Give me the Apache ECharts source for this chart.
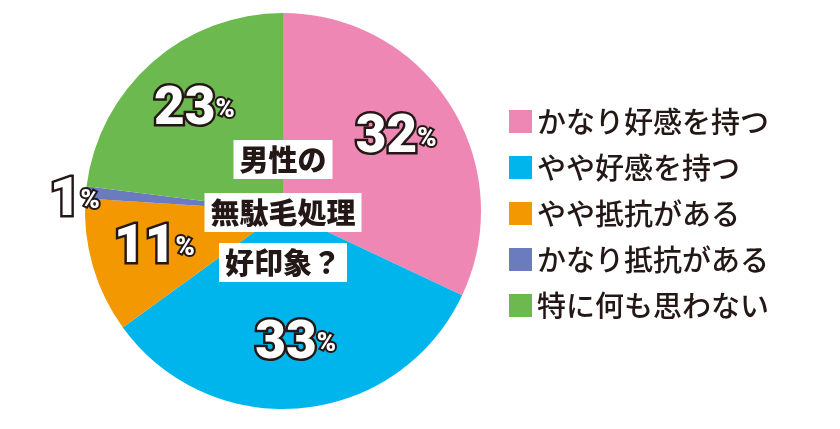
<!DOCTYPE html>
<html><head><meta charset="utf-8">
<script src="https://cdn.jsdelivr.net/npm/echarts@6/dist/echarts.min.js"></script>
<style>html,body{margin:0;padding:0;background:#fff}#c{width:840px;height:429px}</style>
</head><body><div id="c"></div>
<script>
var categories = ['かなり好感を持つ','やや好感を持つ','やや抵抗がある','かなり抵抗がある','特に何も思わない'];
var values = [32, 33, 11, 1, 23];
var colors = ['#EE87B3','#00B5EC','#F39800','#6A7BBE','#6CB94F'];
var centerLines = ['男性の','無駄毛処理','好印象？'];

var chart = echarts.init(document.getElementById('c'));
var pieData = categories.map(function(n,i){ return {name:n, value:values[i], itemStyle:{color:colors[i]}}; });
var labelData = categories.map(function(n,i){
  var d = {name:n, value:values[i]};
  if (values[i] < 5) {
    d.label = {position:'outside', distanceToLabelLine: -14, offset:[0,9]};
    d.labelLine = {show:false, length:0, length2:0};
  }
  return d;
});
var lblStyle = {
  show:true, position:'inside',
  formatter:function(p){ return '{n|'+p.value+'}{p|%}'; },
  rich:{
    n:{fontFamily:'Roboto', fontWeight:900, fontSize:53, color:'#fff', textBorderColor:'#231815', textBorderWidth:5, lineHeight:56},
    p:{fontFamily:'Roboto', fontWeight:900, fontSize:26, color:'#fff', textBorderColor:'#231815', textBorderWidth:4, lineHeight:56}
  }
};
var ys = [140, 193, 243];
chart.setOption({
  animation:false,
  legend:{
    orient:'vertical', left:504, top:102, icon:'rect',
    itemWidth:23, itemHeight:23, itemGap:17,
    data:categories,
    textStyle:{fontFamily:'Noto Sans CJK JP', fontWeight:500, fontSize:29, color:'#231815'},
    selectedMode:false
  },
  series:[
    {type:'pie', name:'main', radius:198, center:[283,211], startAngle:90, clockwise:true,
     label:{show:false}, labelLine:{show:false}, silent:true, data:pieData},
    {type:'pie', name:'labels', radius:[64, 198], center:[283,211], startAngle:90, clockwise:true,
     itemStyle:{color:'rgba(0,0,0,0)'}, label:lblStyle, labelLine:{show:false}, silent:true,
     legendHoverLink:false, data:labelData, z:5}
  ],
  graphic:{ elements: centerLines.map(function(t,i){
    return {type:'text', z:100, x:283, y:ys[i],
      style:{text:t, align:'center', verticalAlign:'top', fontFamily:'Noto Sans CJK JP', fontWeight:900, fontSize:29, fill:'#231815', backgroundColor:'#fff', padding:[5,6,5,6]}};
  })}
});
</script></body></html>
